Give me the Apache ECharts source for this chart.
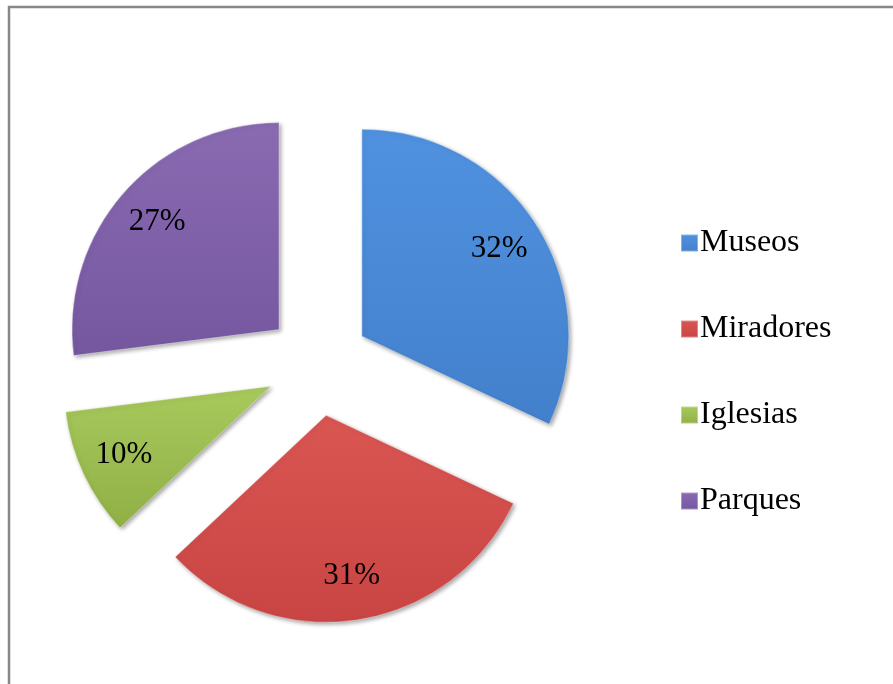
<!DOCTYPE html>
<html>
<head>
<meta charset="utf-8">
<script src="https://cdn.jsdelivr.net/npm/echarts@6/dist/echarts.min.js"></script>
<style>
  html, body { margin: 0; padding: 0; background: #fff; }
  #chart { width: 893px; height: 684px; }
</style>
</head>
<body>
<div id="chart"></div>
<script>
// datos del gráfico
const categories = ['Museos', 'Miradores', 'Iglesias', 'Parques']
const values = [32, 31, 10, 27]
const colorsTop = ['#5092e0', '#d95653', '#a8c95c', '#8a6bb2']
const colorsBottom = ['#4380cc', '#c94543', '#90b046', '#7557a0']

const serif = '"Liberation Serif", "Times New Roman", serif'

function sliceColor (i) {
  return new echarts.graphic.LinearGradient(0, 0, 0, 1, [
    { offset: 0, color: colorsTop[i] },
    { offset: 1, color: colorsBottom[i] }
  ])
}

const center = [318, 364]

const pieData = categories.map(function (name, i) {
  return { name: name, value: values[i], selected: true, itemStyle: { color: sliceColor(i) } }
})

// serie invisible, solo para colocar las etiquetas más hacia afuera
const labelData = categories.map(function (name, i) {
  return { name: name, value: values[i], selected: true }
})

const chart = echarts.init(document.getElementById('chart'))
chart.setOption({
  animation: false,
  legend: {
    orient: 'vertical',
    left: 675,
    top: 222,
    itemWidth: 17,
    itemHeight: 17,
    itemGap: 54,
    icon: 'rect',
    data: categories,
    textStyle: {
      fontFamily: serif,
      fontSize: 32,
      lineHeight: 32,
      color: '#000',
      padding: [0, 0, 0, -3]
    }
  },
  graphic: [{
    type: 'polyline',
    shape: { points: [[9, 684], [9, 7], [893, 7]] },
    style: { stroke: '#878787', lineWidth: 2.5, fill: null },
    silent: true
  }],
  series: [{
    name: 'sitios',
    type: 'pie',
    center: center,
    radius: 207,
    startAngle: 90,
    clockwise: true,
    selectedMode: 'multiple',
    selectedOffset: 52,
    silent: true,
    emphasis: { disabled: true },
    label: { show: false },
    labelLine: { show: false },
    itemStyle: {
      borderColor: 'rgba(255,255,255,0.35)',
      borderWidth: 1,
      shadowBlur: 4,
      shadowOffsetX: 2,
      shadowOffsetY: 2,
      shadowColor: 'rgba(0,0,0,0.35)'
    },
    data: pieData
  }, {
    name: 'etiquetas',
    type: 'pie',
    center: center,
    radius: [112, 207],
    startAngle: 90,
    clockwise: true,
    selectedMode: 'multiple',
    selectedOffset: 52,
    silent: true,
    emphasis: { disabled: true },
    itemStyle: { color: 'rgba(0,0,0,0)' },
    labelLine: { show: false },
    label: {
      show: true,
      position: 'inside',
      fontFamily: serif,
      fontSize: 31,
      color: '#000',
      formatter: function (p) { return Math.round(p.percent) + '%' }
    },
    data: labelData
  }]
})
</script>
</body>
</html>
